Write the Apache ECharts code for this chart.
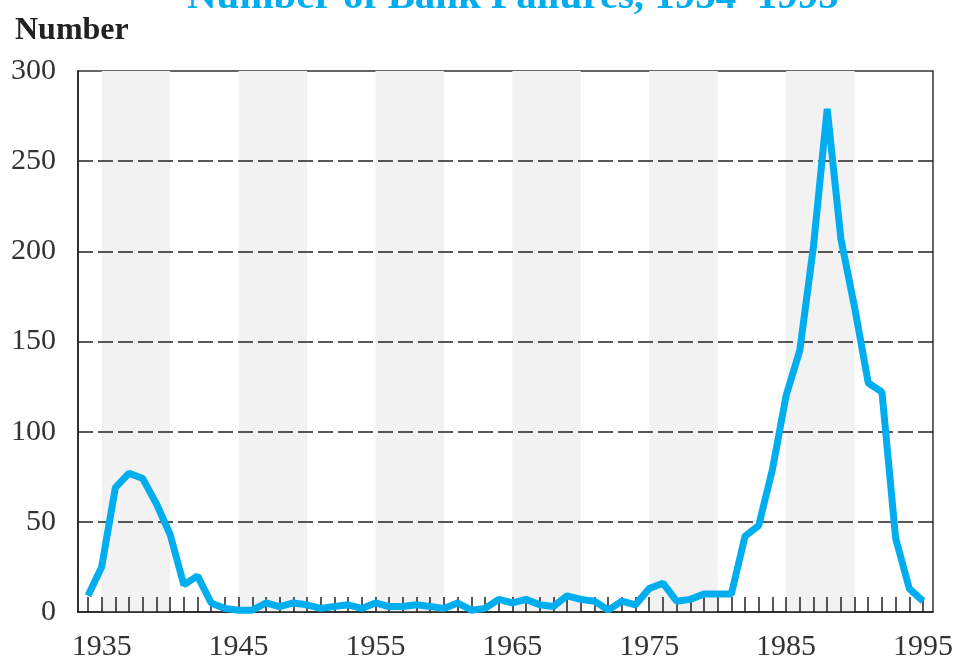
<!DOCTYPE html>
<html>
<head>
<meta charset="utf-8">
<script src="https://cdn.jsdelivr.net/npm/echarts@6/dist/echarts.min.js"></script>
<style>
  html, body { margin: 0; padding: 0; background: #fff; }
  #chart { width: 956px; height: 662px; }
</style>
</head>
<body>
<div id="chart"></div>
<script>
// Annual number of bank failures in the United States
const years = [];
for (let y = 1934; y <= 1995; y++) years.push(y);

const failures = [
  9, 25, 69, 77, 74, 60, 43, 15, 20, 5,      // 1934-1943
  2, 1, 1, 5, 3, 5, 4, 2, 3, 4,              // 1944-1953
  2, 5, 3, 3, 4, 3, 2, 5, 1, 2,              // 1954-1963
  7, 5, 7, 4, 3, 9, 7, 6, 1, 6,              // 1964-1973
  4, 13, 16, 6, 7, 10, 10, 10, 42, 48,       // 1974-1983
  79, 120, 145, 203, 279, 207, 169, 127, 122, 41, // 1984-1993
  13, 6                                       // 1994-1995
];

// Shaded five-year bands
const bandRanges = [
  [1935, 1940], [1945, 1950], [1955, 1960],
  [1965, 1970], [1975, 1980], [1985, 1990]
];

const xLabelYears = [1935, 1945, 1955, 1965, 1975, 1985, 1995];
const yTicks = [0, 50, 100, 150, 200, 250, 300];

const serif = '"Liberation Serif", "Times New Roman", serif';
const chart = echarts.init(document.getElementById('chart'), null, { renderer: 'canvas' });

chart.setOption({
  animation: false,
  backgroundColor: '#ffffff',
  title: [
    {
      text: 'Number of Bank Failures, 1934–1995',
      left: 182,
      top: -28,
      textStyle: { color: '#00aeef', fontFamily: serif, fontWeight: 'bold', fontSize: 41, lineHeight: 41 }
    },
    {
      text: 'Number',
      left: 10,
      top: 10,
      textStyle: { color: '#222', fontFamily: serif, fontWeight: 'bold', fontSize: 32, lineHeight: 32 }
    }
  ],
  grid: {
    left: 78, right: 23, top: 71, bottom: 49,
    show: true, borderColor: '#333', borderWidth: 1.5, backgroundColor: 'transparent'
  },
  xAxis: {
    type: 'value',
    min: 1933.27,
    max: 1995.73,
    z: 3,
    axisLine: { show: true, lineStyle: { color: '#222', width: 1.5 } },
    axisTick: {
      show: true, inside: true, length: 15,
      customValues: years,
      lineStyle: { color: '#222', width: 1.5 }
    },
    axisLabel: {
      customValues: xLabelYears,
      formatter: v => String(v),
      margin: 20,
      color: '#333', fontFamily: serif, fontSize: 30
    },
    splitLine: { show: false }
  },
  yAxis: {
    type: 'value',
    min: 0, max: 300, interval: 50,
    z: 3,
    axisLine: { show: true, lineStyle: { color: '#222', width: 1.5 } },
    axisTick: { show: false },
    axisLabel: {
      customValues: yTicks,
      margin: 22,
      color: '#333', fontFamily: serif, fontSize: 30
    },
    splitLine: {
      show: true, showMinLine: false, showMaxLine: false,
      lineStyle: { color: '#222', width: 1.5, type: [15, 5] }
    }
  },
  series: [
    {
      name: 'bands',
      type: 'line',
      z: 1,
      data: [],
      silent: true,
      markArea: {
        silent: true,
        z: 1,
        itemStyle: { color: '#f2f2f2' },
        data: bandRanges.map(r => [{ xAxis: r[0] }, { xAxis: r[1] }])
      }
    },
    {
      name: 'Bank failures',
      type: 'line',
      z: 5,
      data: years.map((y, i) => [y, failures[i]]),
      showSymbol: false,
      symbol: 'none',
      lineStyle: { color: '#00aeef', width: 7, join: 'bevel' }
    }
  ]
});
</script>
</body>
</html>
